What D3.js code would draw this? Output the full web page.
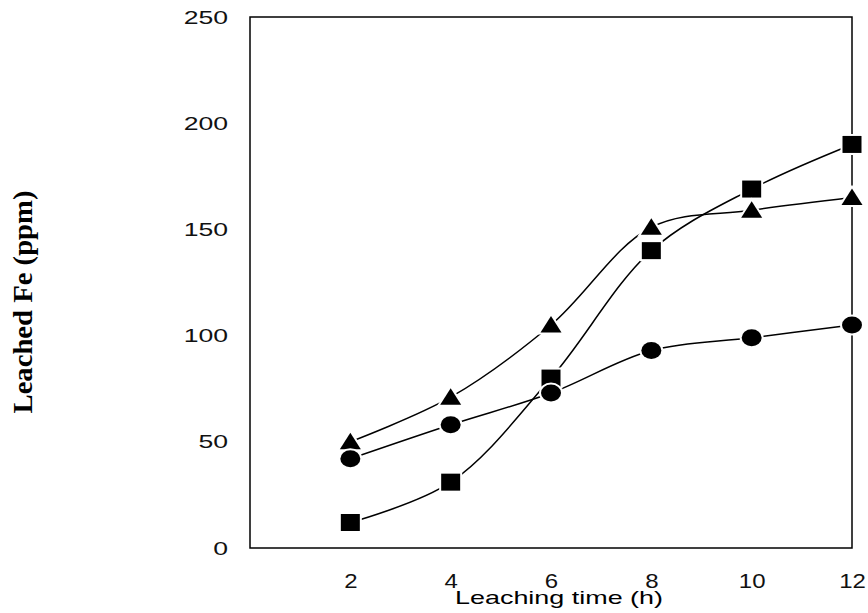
<!DOCTYPE html>
<html>
<head>
<meta charset="utf-8">
<script src="https://cdn.jsdelivr.net/npm/d3@7"></script>
<style>
  body { margin: 0; background: #fff; }
  svg { display: block; }
</style>
</head>
<body>
<div id="chart"></div>
<script>
  // values
  var hours = [2, 4, 6, 8, 10, 12];
  var squareFe = [12, 31, 80, 140, 169, 190];
  var triangleFe = [50, 71, 105, 151, 159, 165];
  var circleFe = [42, 58, 73, 93, 99, 105];
  var xTicks = [2, 4, 6, 8, 10, 12];
  var yTicks = [0, 50, 100, 150, 200, 250];

  var W = 868, H = 613;
  var stretch = 1.4; // the scan is wider than it is tall

  var svg = d3.select('#chart').append('svg')
              .attr('width', W)
              .attr('height', H);

  var x = d3.scaleLinear().domain([0, 12]).range([250, 852]);
  var y = d3.scaleLinear().domain([0, 250]).range([548, 17]);

  // frame
  svg.append('rect')
     .attr('x', x(0))
     .attr('y', y(250))
     .attr('width', x(12) - x(0))
     .attr('height', y(0) - y(250))
     .attr('fill', 'none')
     .attr('stroke', '#000')
     .attr('stroke-width', 1.5);

  var xAxis = svg.append('g')
                 .attr('transform', 'translate(0,' + y(0) + ')')
                 .call(d3.axisBottom(x).tickValues(xTicks).tickSize(0).tickPadding(26));
  xAxis.select('.domain').remove();
  xAxis.selectAll('text')
       .attr('font-family', 'Liberation Sans, Arial, sans-serif')
       .attr('font-size', 20)
       .attr('fill', '#111')
       .attr('transform', 'scale(' + 1.2 + ',1)');

  var yAxis = svg.append('g')
                 .attr('transform', 'translate(' + x(0) + ',0)')
                 .call(d3.axisLeft(y).tickValues(yTicks).tickSize(0));
  yAxis.select('.domain').remove();
  yAxis.selectAll('text')
       .attr('x', -22 / stretch)
       .attr('font-family', 'Liberation Sans, Arial, sans-serif')
       .attr('font-size', 19)
       .attr('fill', '#111')
       .attr('transform', 'scale(' + stretch + ',1)');

  svg.append('text')
     .attr('x', 559)
     .attr('y', 604)
     .attr('text-anchor', 'middle')
     .attr('font-family', 'Liberation Sans, Arial, sans-serif')
     .attr('font-size', 19)
     .attr('textLength', 208)
     .attr('lengthAdjust', 'spacingAndGlyphs')
     .text('Leaching time (h)');

  svg.append('text')
     .attr('transform', 'translate(32,302) rotate(-90)')
     .attr('text-anchor', 'middle')
     .attr('font-family', 'Liberation Serif, Times New Roman, serif')
     .attr('font-weight', 'bold')
     .attr('font-size', 27)
     .attr('textLength', 223)
     .attr('lengthAdjust', 'spacingAndGlyphs')
     .text('Leached Fe (ppm)');

  var line = d3.line()
               .x(function(d, i){ return x(hours[i]); })
               .y(function(d){ return y(d); })
               .curve(d3.curveCatmullRom.alpha(0.5));

  var series = [
    { values: squareFe, shape: 'square' },
    { values: triangleFe, shape: 'triangle' },
    { values: circleFe, shape: 'circle' }
  ];

  series.forEach(function(s){
    svg.append('path')
       .attr('d', line(s.values))
       .attr('fill', 'none')
       .attr('stroke', '#000')
       .attr('stroke-width', 1.5);
  });

  function markerPath(shape){
    if(shape == 'square'){
      return 'M-9.5,-8.5H9.5V8.5H-9.5Z';
    } else if(shape == 'triangle'){
      return 'M0,-9L10.5,7.5H-10.5Z';
    }
    return null;
  }

  series.forEach(function(s){
    var g = svg.append('g');
    s.values.forEach(function(v, i){
      var px = x(hours[i]), py = y(v);
      if(s.shape == 'circle'){
        g.append('ellipse')
         .attr('cx', px).attr('cy', py)
         .attr('rx', 10).attr('ry', 8.5)
         .attr('fill', '#000')
         .attr('stroke', '#fff')
         .attr('stroke-width', 4)
         .attr('paint-order', 'stroke');
      } else {
        g.append('path')
         .attr('d', markerPath(s.shape))
         .attr('transform', 'translate(' + px + ',' + py + ')')
         .attr('fill', '#000')
         .attr('stroke', '#fff')
         .attr('stroke-width', 4)
         .attr('paint-order', 'stroke');
      }
    });
  });
</script>
</body>
</html>
